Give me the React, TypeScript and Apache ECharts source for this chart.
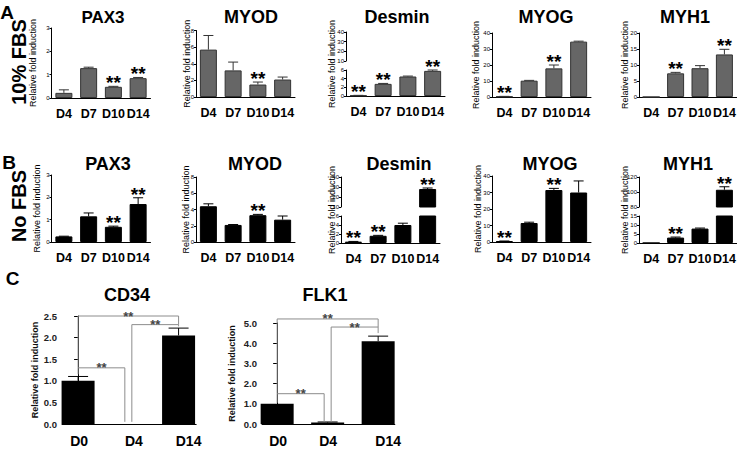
import React, { useEffect, useRef } from 'react';
import * as echarts from 'echarts';

const FONT = "'Liberation Sans', Arial, Helvetica, sans-serif";

// ---------- data ----------
const days = ['D4', 'D7', 'D10', 'D14'];
const daysC = ['D0', 'D4', 'D14'];

// A: 10% FBS
const fbsPAX3 = [0.22, 1.28, 0.48, 0.85];
const fbsPAX3Err = [0.35, 1.32, 0.5, 0.88];
const fbsPAX3Sig = [0, 0, 1, 1];
const fbsMYOD = [5.7, 3.2, 1.5, 2.1];
const fbsMYODErr = [7.4, 4.2, 1.8, 2.4];
const fbsMYODSig = [0, 0, 1, 0];
const fbsDesmin = [0.12, 2.8, 4.5, 5.8];
const fbsDesminErr = [0.15, 2.9, 4.6, 6.0];
const fbsDesminSig = [1, 1, 0, 1];
const fbsMYOG = [0.3, 10.2, 17.9, 34.6];
const fbsMYOGErr = [0.4, 10.4, 20, 34.9];
const fbsMYOGSig = [1, 0, 1, 0];
const fbsMYH1 = [0, 7.4, 9.0, 13.3];
const fbsMYH1Err = [0, 7.7, 9.8, 14.9];
const fbsMYH1Sig = [0, 1, 0, 1];

// B: No FBS
const noPAX3 = [0.25, 1.15, 0.68, 1.7];
const noPAX3Err = [0.26, 1.3, 0.71, 1.98];
const noPAX3Sig = [0, 0, 1, 1];
const noMYOD = [4.4, 2.1, 3.3, 2.75];
const noMYODErr = [4.7, 2.15, 3.4, 3.2];
const noMYODSig = [0, 0, 1, 0];
const noDesmin = [0.3, 1.6, 4.0, 28];
const noDesminErr = [0.35, 1.7, 4.4, 29];
const noDesminSig = [1, 1, 0, 1];
const noMYOG = [0.5, 11.5, 31.5, 30];
const noMYOGErr = [0.6, 12, 32.5, 37];
const noMYOGSig = [1, 0, 1, 0];
const noMYH1 = [0, 3, 8, 103];
const noMYH1Err = [0, 3.3, 8.3, 107];
const noMYH1Sig = [0, 1, 0, 1];

// C
const cd34 = [1.0, 0, 2.05];
const cd34Err = [1.1, 0, 2.22];
const flk1 = [1.0, 0.07, 4.1];
const flk1Err = [1.0, 0.1, 4.35];
// [from, to, level, left end, right end]
const cd34Brackets = [
  [0, 1, 1.3, 1.15, 0.05],
  [0, 2, 2.5, 1.3, 2.3],
  [1, 2, 2.3, 0.05, 2.26],
];
const flk1Brackets = [
  [0, 1, 1.5, 1.05, 0.1],
  [0, 2, 5.2, 1.5, 4.8],
  [1, 2, 4.8, 0.1, 4.5],
];

// ---------- helpers ----------
const GRAY = '#666666';

function errRender(capW: number, color: string, starSize: number, starDy: number) {
  return (_p: any, api: any) => {
    const i = api.value(0);
    const v = api.value(1);
    const e = api.value(2);
    const s = api.value(3);
    const base = api.coord([i, v]);
    const top = api.coord([i, Math.max(e, v)]);
    const children: any[] = [];
    if (e > v) {
      children.push({
        type: 'line',
        shape: { x1: base[0], y1: base[1], x2: top[0], y2: top[1] },
        style: { stroke: color, lineWidth: 1 },
      });
      children.push({
        type: 'line',
        shape: { x1: top[0] - capW / 2, y1: top[1], x2: top[0] + capW / 2, y2: top[1] },
        style: { stroke: color, lineWidth: 1 },
      });
    }
    if (s) {
      children.push({
        type: 'text',
        x: top[0],
        y: top[1] - starDy,
        style: {
          text: '**', fontSize: starSize, fontWeight: 'bold', fontFamily: FONT,
          fill: '#000', align: 'center', verticalAlign: 'middle',
        },
      });
    }
    return { type: 'group', children };
  };
}

function bracketRender(last: number) {
  return (_p: any, api: any) => {
    const f = api.value(0);
    const t = api.value(1);
    const lvl = api.value(2);
    const lb = api.value(3);
    const rb = api.value(4);
    const dxL = f > 0 ? 3.5 : 0;
    const dxR = t < last ? -3.5 : 0;
    const a = api.coord([f, lb]);
    const b = api.coord([f, lvl]);
    const c = api.coord([t, lvl]);
    const d = api.coord([t, rb]);
    return {
      type: 'group',
      children: [
        {
          type: 'polyline',
          shape: { points: [[a[0] + dxL, a[1]], [b[0] + dxL, b[1]], [c[0] + dxR, c[1]], [d[0] + dxR, d[1]]] },
          style: { stroke: '#8c8c8c', lineWidth: 1, fill: 'none' },
        },
        {
          type: 'text',
          x: (b[0] + dxL + c[0] + dxR) / 2,
          y: b[1],
          style: {
            text: '**', fontSize: 13, fontWeight: 'bold', fontFamily: FONT,
            fill: '#444', align: 'center', verticalAlign: 'middle',
          },
        },
      ],
    };
  };
}

type Panel = {
  title: string; values: number[]; errs: number[]; sigs: number[];
  left: number; width: number; top: number; bottom: number;
  min: number; max: number; interval: number;
  upper?: { min: number; max: number; interval: number; top: number; bottom: number };
  nameGap: number; titleX: number; titleY: number; titleSize: number;
  color: string; border: string; errColor: string;
};

function buildOption() {
  const grids: any[] = [];
  const xAxes: any[] = [];
  const yAxes: any[] = [];
  const series: any[] = [];
  const graphics: any[] = [];

  const nameStyle = { fontFamily: FONT, fontSize: 9, color: '#000' };
  const smallY = (min: number, max: number, interval: number, gi: number, name: string, gap: number) => ({
    gridIndex: gi, type: 'value', min, max, interval,
    axisLine: { show: true, lineStyle: { color: '#000', width: 1 } },
    axisTick: { show: true, length: 2, lineStyle: { color: '#000', width: 1 } },
    axisLabel: { fontFamily: FONT, fontSize: 6, color: '#000', margin: 2 },
    splitLine: { show: false },
    name, nameLocation: 'middle', nameGap: gap, nameTextStyle: nameStyle, nameMoveOverlap: false,
  });
  const addGrid = (left: number, top: number, width: number, height: number) => {
    grids.push({ left, top, width, height, containLabel: false, outerBoundsMode: 'none' });
    return grids.length - 1;
  };
  const items = (p: Panel, keep: (i: number) => boolean) =>
    p.values.map((v, i) => [i, v, p.errs[i], p.sigs[i]]).filter((_, i) => keep(i));

  const addPanel = (p: Panel) => {
    const g = addGrid(p.left, p.top, p.width, p.bottom - p.top);
    xAxes.push({
      gridIndex: g, type: 'category', data: days,
      axisLine: { lineStyle: { color: '#000', width: 1 } },
      axisTick: { show: false },
      axisLabel: { fontFamily: FONT, fontWeight: 'bold', fontSize: 12.5, color: '#000', margin: 9, interval: 0 },
    });
    yAxes.push(smallY(p.min, p.max, p.interval, g, p.upper ? '' : 'Relative fold induction', p.nameGap));
    series.push({
      type: 'bar', xAxisIndex: g, yAxisIndex: g, data: p.values, barWidth: 17, clip: true, silent: true,
      itemStyle: { color: p.color, borderColor: p.border, borderWidth: 1 },
    });
    series.push({
      type: 'custom', xAxisIndex: g, yAxisIndex: g, silent: true,
      data: items(p, (i) => !p.upper || p.values[i] <= p.upper.min),
      renderItem: errRender(10, p.errColor, 19, 3.75),
    });
    if (p.upper) {
      const u = p.upper;
      const gu = addGrid(p.left, u.top, p.width, u.bottom - u.top);
      xAxes.push({ gridIndex: gu, type: 'category', data: days, show: false });
      yAxes.push(smallY(u.min, u.max, u.interval, gu, '', p.nameGap));
      series.push({
        type: 'bar', xAxisIndex: gu, yAxisIndex: gu, barWidth: 17, clip: true, silent: true,
        data: p.values.map((v) => (v > u.min ? v : '-')),
        itemStyle: { color: p.color, borderColor: p.border, borderWidth: 1 },
      });
      series.push({
        type: 'custom', xAxisIndex: gu, yAxisIndex: gu, silent: true,
        data: items(p, (i) => p.values[i] > u.min),
        renderItem: errRender(10, p.errColor, 19, 3.75),
      });
      const gn = addGrid(p.left, u.top, p.width, p.bottom - u.top);
      xAxes.push({ gridIndex: gn, type: 'category', data: days, show: false });
      yAxes.push({
        gridIndex: gn, type: 'value',
        axisLine: { show: false }, axisTick: { show: false }, axisLabel: { show: false }, splitLine: { show: false },
        name: 'Relative fold induction', nameLocation: 'middle', nameGap: p.nameGap,
        nameTextStyle: nameStyle, nameMoveOverlap: false,
      });
    }
    graphics.push({
      type: 'text', x: p.titleX, y: p.titleY,
      style: { text: p.title, fontFamily: FONT, fontWeight: 'bold', fontSize: p.titleSize, fill: '#000', align: 'center', verticalAlign: 'middle' },
    });
  };

  const A = { color: GRAY, border: '#333', errColor: '#333' };
  const B = { color: '#000', border: '#000', errColor: '#000' };

  // Row A
  addPanel({ title: 'PAX3', values: fbsPAX3, errs: fbsPAX3Err, sigs: fbsPAX3Sig, left: 51.5, width: 99, top: 28, bottom: 98, min: 0, max: 3, interval: 1, nameGap: 14, titleX: 103, titleY: 17, titleSize: 17, ...A });
  addPanel({ title: 'MYOD', values: fbsMYOD, errs: fbsMYODErr, sigs: fbsMYODSig, left: 196, width: 99, top: 30.5, bottom: 97, min: 0, max: 8, interval: 2, nameGap: 5, titleX: 251, titleY: 17, titleSize: 18, ...A });
  addPanel({ title: 'Desmin', values: fbsDesmin, errs: fbsDesminErr, sigs: fbsDesminSig, left: 346, width: 99, top: 70, bottom: 96, min: 0, max: 6, interval: 2, upper: { min: 10, max: 40, interval: 10, top: 32, bottom: 61 }, nameGap: 10, titleX: 397, titleY: 17, titleSize: 18, ...A });
  addPanel({ title: 'MYOG', values: fbsMYOG, errs: fbsMYOGErr, sigs: fbsMYOGSig, left: 492, width: 99, top: 33, bottom: 97, min: 0, max: 40, interval: 10, nameGap: 12, titleX: 546, titleY: 17, titleSize: 18, ...A });
  addPanel({ title: 'MYH1', values: fbsMYH1, errs: fbsMYH1Err, sigs: fbsMYH1Sig, left: 639, width: 97.6, top: 33, bottom: 97, min: 0, max: 20, interval: 5, nameGap: 10, titleX: 685, titleY: 17, titleSize: 18, ...A });

  // Row B
  addPanel({ title: 'PAX3', values: noPAX3, errs: noPAX3Err, sigs: noPAX3Sig, left: 51.5, width: 99, top: 175, bottom: 242, min: 0, max: 3, interval: 1, nameGap: 10, titleX: 108, titleY: 163.5, titleSize: 18, ...B });
  addPanel({ title: 'MYOD', values: noMYOD, errs: noMYODErr, sigs: noMYODSig, left: 196, width: 99, top: 177, bottom: 242, min: 0, max: 8, interval: 2, nameGap: 6, titleX: 255, titleY: 163.5, titleSize: 18, ...B });
  addPanel({ title: 'Desmin', values: noDesmin, errs: noDesminErr, sigs: noDesminSig, left: 341, width: 99, top: 216, bottom: 243, min: 0, max: 6, interval: 2, upper: { min: 10, max: 40, interval: 10, top: 177, bottom: 207 }, nameGap: 5, titleX: 399, titleY: 163.5, titleSize: 18, ...B });
  addPanel({ title: 'MYOG', values: noMYOG, errs: noMYOGErr, sigs: noMYOGSig, left: 492, width: 99, top: 176, bottom: 242, min: 0, max: 40, interval: 10, nameGap: 10, titleX: 550, titleY: 163.5, titleSize: 18, ...B });
  addPanel({ title: 'MYH1', values: noMYH1, errs: noMYH1Err, sigs: noMYH1Sig, left: 639, width: 97.6, top: 216, bottom: 243, min: 0, max: 15, interval: 5, upper: { min: 80, max: 120, interval: 20, top: 177, bottom: 207 }, nameGap: 10, titleX: 688, titleY: 163.5, titleSize: 18, ...B });

  // Row C
  const addC = (title: string, vals: number[], errs: number[], brackets: number[][], left: number, top: number, bottom: number,
    xmin: number, xmax: number, unit: number, ymax: number, yint: number, labelOff: number[], titleX: number, nameGap: number) => {
    const g = addGrid(left, top, (xmax - xmin) * unit, bottom - top);
    const baseLbl = { fontFamily: FONT, fontWeight: 'bold', fontSize: 14, color: '#000' };
    xAxes.push({
      gridIndex: g, type: 'value', min: xmin, max: xmax,
      axisLine: { show: true, onZero: false, lineStyle: { color: '#000', width: 1 } },
      axisTick: { show: false }, splitLine: { show: false },
      axisLabel: {
        ...baseLbl, margin: 10, customValues: [0, 1, 2],
        formatter: (v: number) => `{c${Math.round(v)}|${daysC[Math.round(v)]}}`,
        rich: {
          c0: { ...baseLbl, padding: [0, 0, 0, 2 * labelOff[0]] },
          c1: { ...baseLbl, padding: [0, 0, 0, 2 * labelOff[1]] },
          c2: { ...baseLbl, padding: [0, 0, 0, 2 * labelOff[2]] },
        },
      },
    });
    yAxes.push({
      gridIndex: g, type: 'value', min: 0, max: ymax, interval: yint,
      axisLine: { show: true, lineStyle: { color: '#000', width: 1 } },
      axisTick: { show: true, length: 4, lineStyle: { color: '#000' } },
      axisLabel: { fontFamily: FONT, fontWeight: 'bold', fontSize: 9.5, color: '#222', margin: 5, formatter: (v: number) => v.toFixed(1) },
      splitLine: { show: false },
      name: 'Relative fold induction', nameLocation: 'middle', nameGap, nameMoveOverlap: false,
      nameTextStyle: { fontFamily: FONT, fontWeight: 'bold', fontSize: 9, color: '#111' },
    });
    series.push({
      type: 'bar', xAxisIndex: g, yAxisIndex: g, barWidth: 33, clip: true, silent: true,
      data: vals.map((v, i) => [i, v]), itemStyle: { color: '#000' },
    });
    series.push({
      type: 'custom', xAxisIndex: g, yAxisIndex: g, silent: true,
      data: vals.map((v, i) => [i, v, errs[i], 0]), renderItem: errRender(20, '#000', 13, 0),
    });
    series.push({
      type: 'custom', xAxisIndex: g, yAxisIndex: g, silent: true,
      data: brackets, renderItem: bracketRender(2),
    });
    graphics.push({
      type: 'text', x: titleX, y: 295,
      style: { text: title, fontFamily: FONT, fontWeight: 'bold', fontSize: 18, fill: '#000', align: 'center', verticalAlign: 'middle' },
    });
  };
  addC('CD34', cd34, cd34Err, cd34Brackets, 62, 316, 424, -0.32, 2.35, 50.25, 2.5, 0.5, [1, 5.5, 10], 127, 23);
  addC('FLK1', flk1, flk1Err, flk1Brackets, 262, 323, 424, -0.3, 2.33, 50.5, 5, 1, [1, 0.5, 10], 325, 26);

  // panel letters & row labels
  const big = (text: string, x: number, y: number, size: number, rotation = 0) => ({
    type: 'text', x, y, rotation,
    style: { text, fontFamily: FONT, fontWeight: 'bold', fontSize: size, fill: '#000', align: 'center', verticalAlign: 'middle' },
  });
  graphics.push(big('A', 7, 12, 19));
  graphics.push(big('B', 9, 162, 19));
  graphics.push(big('C', 12.5, 278, 19));
  graphics.push(big('10% FBS', 18.5, 62, 20, Math.PI / 2));
  graphics.push(big('No FBS', 18.5, 206, 20, Math.PI / 2));

  return {
    animation: false,
    backgroundColor: '#ffffff',
    grid: grids,
    xAxis: xAxes,
    yAxis: yAxes,
    series,
    graphic: graphics,
  };
}

export default function App() {
  const ref = useRef<HTMLDivElement>(null);
  useEffect(() => {
    if (!ref.current) return;
    const chart = echarts.init(ref.current, null, { renderer: 'svg' });
    chart.setOption(buildOption() as any);
    return () => chart.dispose();
  }, []);
  return (
    <div
      ref={ref}
      style={{ position: 'fixed', left: 0, top: 0, width: 755, height: 449, background: '#fff' }}
    />
  );
}
